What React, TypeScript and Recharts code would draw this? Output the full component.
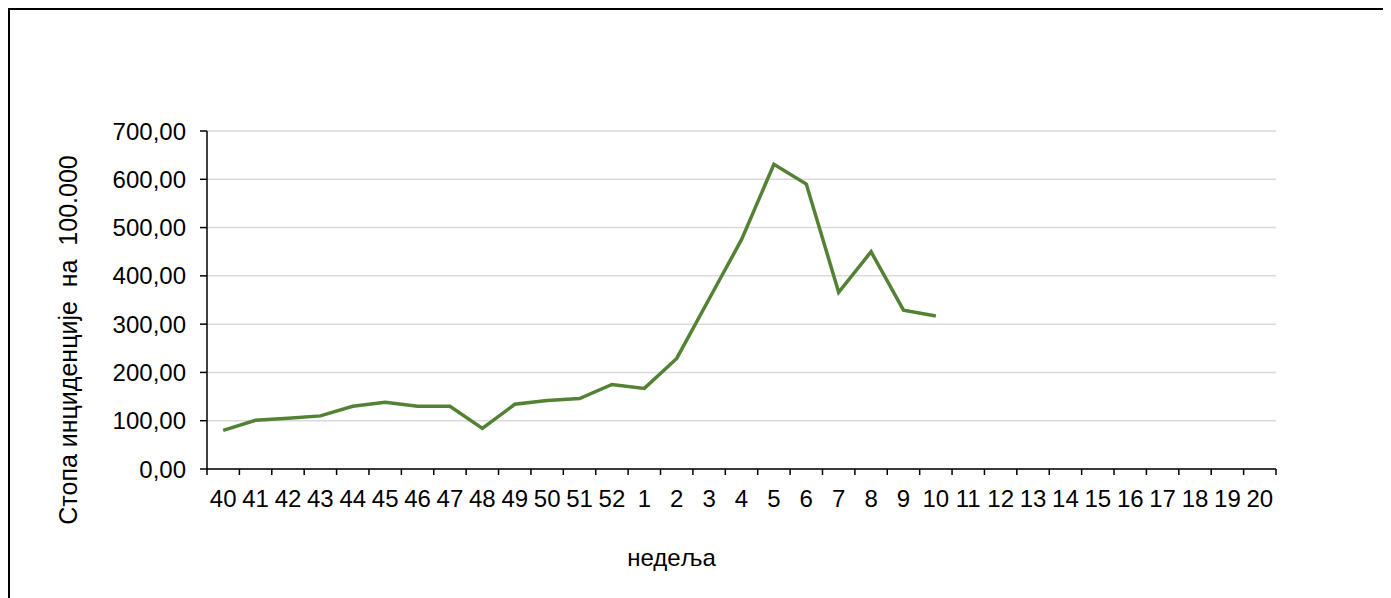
import React from 'react';
import { LineChart, Line, XAxis, YAxis, CartesianGrid, Label } from 'recharts';

const weeks = ['40','41','42','43','44','45','46','47','48','49','50','51','52','1','2','3','4','5','6','7','8','9','10','11','12','13','14','15','16','17','18','19','20'];
const rates: (number | null)[] = [80, 101, 105, 110, 130, 138, 130, 130, 84, 134, 142, 146, 175, 167, 229, 352, 475, 631, 590, 366, 450, 329, 317, null, null, null, null, null, null, null, null, null, null];
const yTicks = [0, 100, 200, 300, 400, 500, 600, 700];
const yTitle = 'Стопа инциденције  на  100.000';
const xTitle = 'недеља';

const data = weeks.map((w, i) => ({ week: w, v: rates[i] }));

const FONT = '"Liberation Sans", Arial, sans-serif';
const FS = 24;
const TICK_SIZE = 6;
const TICK_MARGIN = 16;

const XTick = (props: any) => {
  const { x, y, payload, index, visibleTicksCount } = props;
  const half = payload && payload.offset ? payload.offset : 16;
  const axisY = y - TICK_SIZE - TICK_MARGIN;
  const last = index === (visibleTicksCount ?? weeks.length) - 1;
  return (
    <g>
      <line x1={x - half} x2={x - half} y1={axisY} y2={axisY + TICK_SIZE} stroke="#000" strokeWidth={1.5} />
      {last && <line x1={x + half} x2={x + half} y1={axisY} y2={axisY + TICK_SIZE} stroke="#000" strokeWidth={1.5} />}
      <text x={x} y={y + 16} textAnchor="middle" fontSize={FS} fontFamily={FONT} fill="#000">
        {payload.value}
      </text>
    </g>
  );
};

const YTitle = (props: any) => {
  const vb = props.viewBox || { x: 0, y: 121, width: 197, height: 338 };
  const cx = vb.x + 67;
  const cy = vb.y + vb.height / 2 + 40;
  return (
    <text
      x={cx}
      y={cy}
      transform={`rotate(-90, ${cx}, ${cy})`}
      textAnchor="middle"
      fontSize={25}
      fontFamily={FONT}
      fill="#000"
      style={{ whiteSpace: 'pre' }}
    >
      {yTitle}
    </text>
  );
};

const XTitle = (props: any) => {
  const vb = props.viewBox || { x: 197, y: 459, width: 1069, height: 60 };
  const cx = vb.x + vb.width / 2 - 70;
  const cy = vb.y + 97;
  return (
    <text x={cx} y={cy} textAnchor="middle" fontSize={FS} fontFamily={FONT} fill="#000">
      {xTitle}
    </text>
  );
};

export default function App() {
  return (
    <div style={{ width: 1400, height: 600, border: '2px solid #000', boxSizing: 'border-box', background: '#fff' }}>
      <LineChart
        width={1380}
        height={588}
        data={data}
        margin={{ top: 121, right: 114, left: 0, bottom: 69 }}
      >
        <CartesianGrid vertical={false} stroke="#d9d9d9" strokeWidth={1.5} />
        <XAxis
          dataKey="week"
          scale="band"
          interval={0}
          height={60}
          tickLine={false}
          tickSize={TICK_SIZE}
          tickMargin={TICK_MARGIN}
          axisLine={{ stroke: '#000', strokeWidth: 1.5 }}
          tick={<XTick />}
        >
          <Label content={<XTitle />} />
        </XAxis>
        <YAxis
          width={197}
          domain={[0, 700]}
          ticks={yTicks}
          interval={0}
          tickSize={7}
          tickMargin={14}
          tickLine={{ stroke: '#000', strokeWidth: 1.5 }}
          axisLine={{ stroke: '#000', strokeWidth: 1.5 }}
          tick={{ fontSize: FS, fontFamily: FONT, fill: '#000' }}
          tickFormatter={(v: number) => v.toFixed(2).replace('.', ',')}
        >
          <Label content={<YTitle />} />
        </YAxis>
        <Line
          type="linear"
          dataKey="v"
          stroke="#548235"
          strokeWidth={3.5}
          dot={false}
          activeDot={false}
          isAnimationActive={false}
        />
      </LineChart>
    </div>
  );
}
